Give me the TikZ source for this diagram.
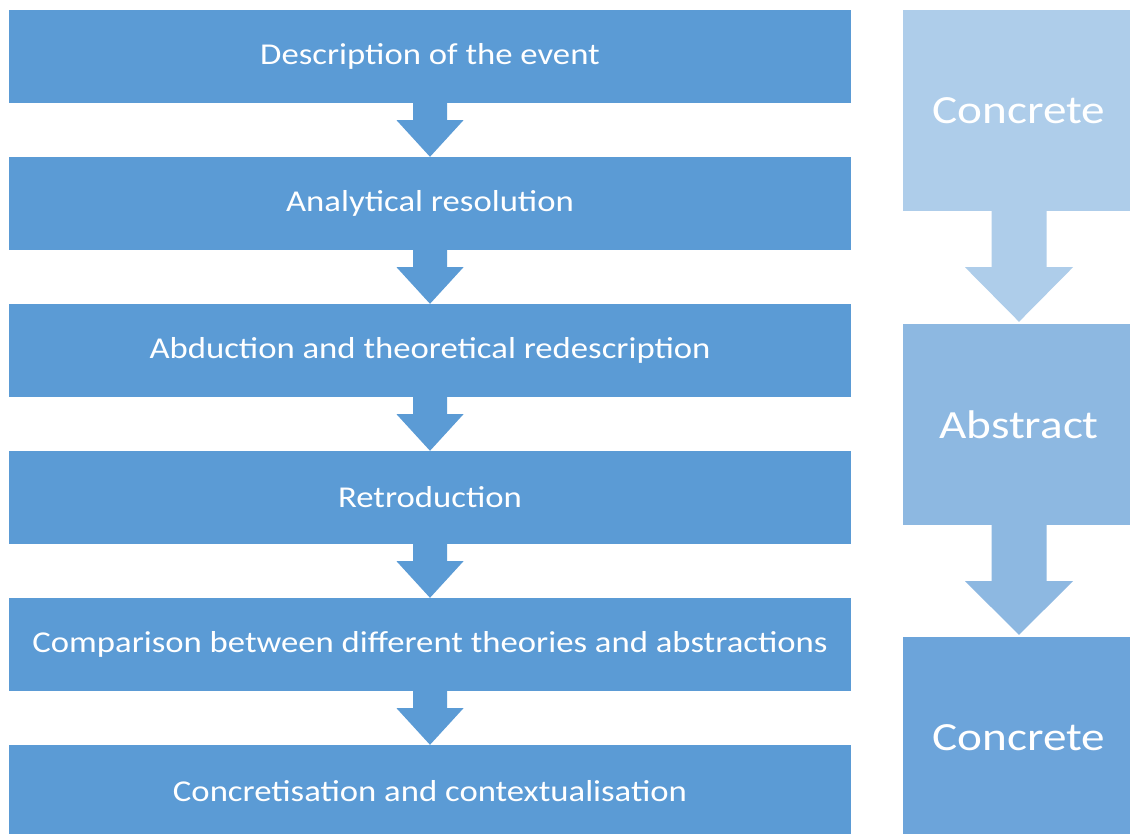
\documentclass[tikz,border=0pt]{standalone}
\usepackage{fontspec}
\setmainfont{Carlito}
\usetikzlibrary{calc}
\definecolor{mainblue}{HTML}{5B9BD5}
\definecolor{lightA}{HTML}{AECDEA}
\definecolor{lightB}{HTML}{8DB8E1}
\definecolor{lightC}{HTML}{6CA4DA}
\tikzset{
  stepbox/.style={fill=mainblue, draw=none, minimum width=842pt, minimum height=93pt, inner sep=0pt, text=white,
    font=\fontsize{30.3}{36}\selectfont},
  levelbox/.style={draw=none, minimum width=232pt, minimum height=201pt, inner sep=0pt, text=white,
    font=\fontsize{40}{48}\selectfont},
}
\newcommand{\hs}[1]{\scalebox{1.145}[1]{#1}}
\newcommand{\hr}[1]{\scalebox{1.18}[1]{#1}}
% left arrow between node #1 and node #2
\newcommand{\leftarrowshape}[2]{%
  \fill[mainblue] ($(#1.south)+(-17,0)$) -- ($(#1.south)+(17,0)$) -- ($(#1.south)+(17,17)$)
    -- ($(#1.south)+(33.5,17)$) -- (#2.north) -- ($(#1.south)+(-33.5,17)$) -- ($(#1.south)+(-17,17)$) -- cycle;}
\newcommand{\rightarrowshape}[3]{%
  \fill[#3] ($(#1.south)+(-27.5,0)$) -- ($(#1.south)+(27.5,0)$) -- ($(#1.south)+(27.5,56)$)
    -- ($(#1.south)+(54,56)$) -- ($(#2.north)+(0,-2)$) -- ($(#1.south)+(-54,56)$) -- ($(#1.south)+(-27.5,56)$) -- cycle;}
\begin{document}
\begin{tikzpicture}[x=1pt,y=-1pt]
\clip (0,0) rectangle (1130,834);
\fill[white] (0,0) rectangle (1130,834);
\node[stepbox] (s1) at (430,56.5) {\hs{Description of the event}};
\node[stepbox] (s2) at (430,203.5) {\hs{Analytical resolution}};
\node[stepbox] (s3) at (430,350.5) {\hs{Abduction and theoretical redescription}};
\node[stepbox] (s4) at (430,497.5) {\hs{Retroduction}};
\node[stepbox] (s5) at (430,644.5) {\hs{Comparison between different theories and abstractions}};
\node[stepbox] (s6) at (430,791.5) {\hs{Concretisation and contextualisation}};
\leftarrowshape{s1}{s2}
\leftarrowshape{s2}{s3}
\leftarrowshape{s3}{s4}
\leftarrowshape{s4}{s5}
\leftarrowshape{s5}{s6}
\node[levelbox, fill=lightA] (r1) at (1019,110.5) {\hr{Concrete}};
\node[levelbox, fill=lightB] (r2) at (1019,424.5) {\hr{Abstract}};
\node[levelbox, fill=lightC] (r3) at (1019,737.5) {\hr{Concrete}};
\rightarrowshape{r1}{r2}{lightA}
\rightarrowshape{r2}{r3}{lightB}
\end{tikzpicture}
\end{document}
